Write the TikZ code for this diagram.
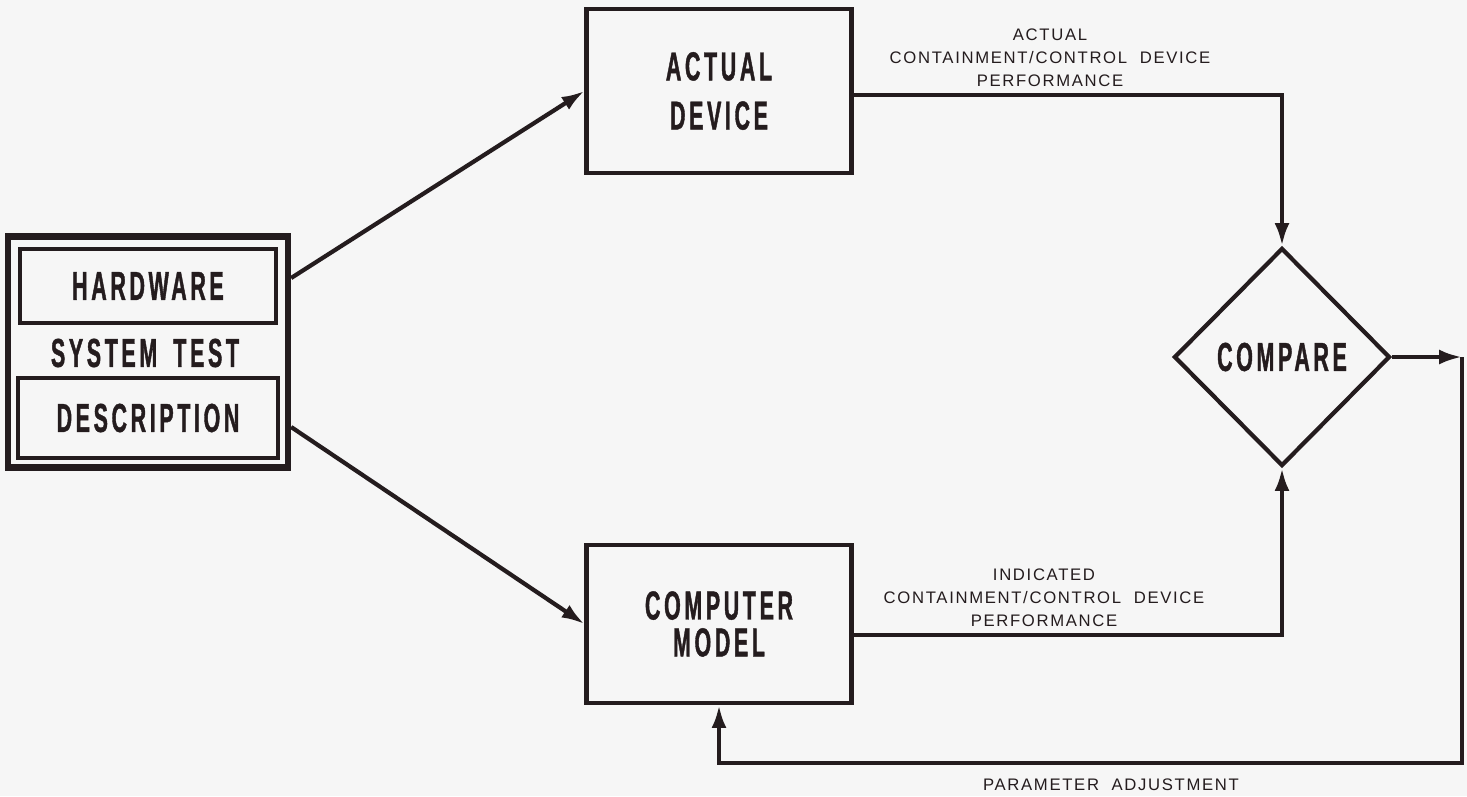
\documentclass[tikz,border=0pt]{standalone}
\usepackage{xcolor}
\usepackage{fontspec}
\usepackage{tikz}
\usetikzlibrary{shapes,arrows.meta}
\newfontfamily\boxfont[FakeStretch=0.53,LetterSpace=9,FakeBold=1]{Liberation Sans}
\newfontfamily\labfont[LetterSpace=10]{Liberation Sans}
\definecolor{ink}{RGB}{36,28,30}
\definecolor{paper}{RGB}{246,246,246}

\tikzset{
  blk/.style={draw=ink,line width=2.4pt,minimum width=5.3cm,align=center,
    text=ink,font=\boxfont\bfseries\fontsize{23}{28}\selectfont},
  panel/.style={draw=ink,line width=2.4pt,inner sep=0pt,text=ink,
    font=\boxfont\bfseries\fontsize{23}{28}\selectfont},
  lbl/.style={align=center,text=ink,font=\labfont\fontsize{9.5}{13}\selectfont},
  flow/.style={draw=ink,line width=2.4pt,-{Latex[length=13pt,width=8.5pt]}}
}

\begin{document}
\begin{tikzpicture}[x=0.02cm,y=-0.02cm]
\useasboundingbox[fill=paper] (0,0) rectangle (1467,796);
% hardware description block
\node[draw=ink,line width=3.6pt,minimum width=5.6cm,minimum height=4.62cm] (sys) at (148,352) {};
\node[panel,minimum width=5.12cm,minimum height=1.48cm] (hw) at (148,286) {HARDWARE};
\node[panel,draw=none] (tst) at (145,353) {SYSTEM\hspace{0.4em}TEST};
\node[panel,minimum width=5.2cm,minimum height=1.6cm] (desc) at (148,418) {DESCRIPTION};
% device, model and comparison
\node[blk,minimum height=3.28cm] (dev) at (719,91) {ACTUAL\\[0pt]DEVICE};
\node[blk,minimum height=3.16cm] (model) at (719,624) {COMPUTER\\[-7pt]MODEL};
\node[diamond,draw=ink,line width=2.4pt,inner sep=0pt,minimum width=4.32cm,minimum height=4.36cm,
  text=ink,font=\boxfont\bfseries\fontsize{23}{28}\selectfont] (cmp) at (1282,357) {COMPARE};
\coordinate (out) at (1462,357);
\coordinate (ret) at (1462,763);
% labels
\node[lbl] (actlbl) at (1050,58) {ACTUAL\\CONTAINMENT/CONTROL\ \ DEVICE\\PERFORMANCE};
\node[lbl] (indlbl) at (1044,598) {INDICATED\\CONTAINMENT/CONTROL\ \ DEVICE\\PERFORMANCE};
\node[lbl] (parlbl) at (1111,785) {PARAMETER\ \ ADJUSTMENT};
% connectors
\draw[flow] ([yshift=0.16cm]hw.east -| sys.east) -- (dev.west);
\draw[flow] ([yshift=-0.18cm]desc.east -| sys.east) -- (model.west);
\draw[flow] ([yshift=-0.08cm]dev.east) -| (cmp.north);
\draw[flow] ([yshift=-0.22cm]model.east) -| (cmp.south);
\draw[flow] (cmp.east) -- (out);
\draw[flow] (out) -- (ret) -| (model.south);
\end{tikzpicture}
\end{document}
